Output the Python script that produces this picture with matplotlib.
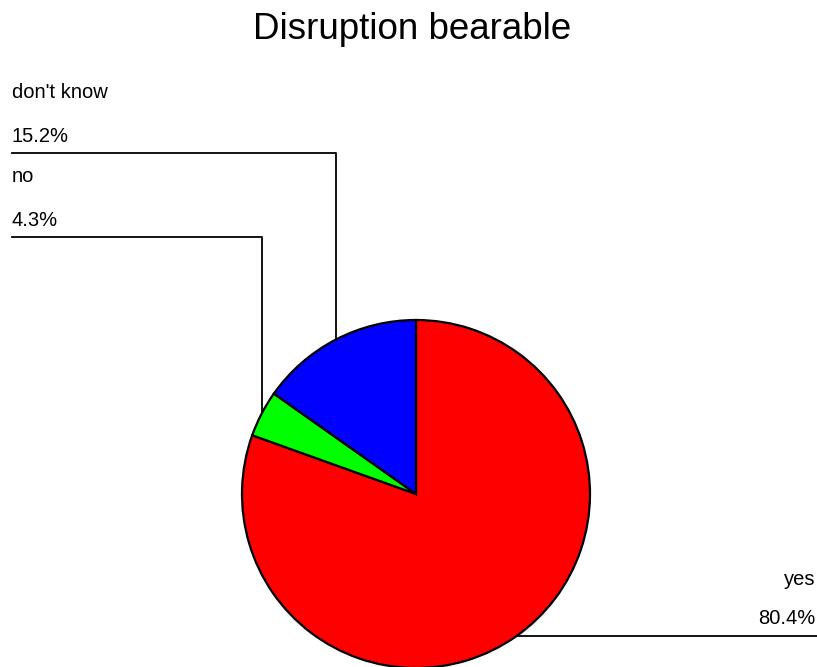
import numpy as np
import matplotlib.pyplot as plt

# data
labels = ["yes", "no", "don't know"]
shares = [80.4, 4.3, 15.2]
colors = ["#ff0000", "#00ff00", "#0000ff"]
title = "Disruption bearable"

plt.rcParams['font.family'] = ['Liberation Sans', 'DejaVu Sans']

W, H = 817, 667
fig = plt.figure(figsize=(W / 100, H / 100), dpi=100)
ax = fig.add_axes([0, 0, 1, 1])
ax.set_xlim(0, W)
ax.set_ylim(0, H)
ax.set_aspect('equal')
ax.axis('off')

cx, cy, r = 416, H - 494, 174
wedges, _ = ax.pie(shares, colors=colors, startangle=90, counterclock=False,
                   center=(cx, cy), radius=r, frame=True,
                   wedgeprops=dict(edgecolor='black', linewidth=1.6))
ax.set_xlim(0, W)
ax.set_ylim(0, H)
ax.axis('off')

# leader lines: left labels stacked top-down, right labels at the edge
left_lines = {"don't know": H - 153, "no": H - 237}
fs = 14.5
for w, lab, val in zip(wedges, labels, shares):
    mid = np.deg2rad((w.theta1 + w.theta2) / 2)
    ex = cx + r * np.cos(mid)
    ey = cy + r * np.sin(mid)
    if lab in left_lines:
        ly = left_lines[lab]
        ax.plot([12, ex, ex], [ly, ly, ey], color='black', lw=1.3, zorder=0)
        ax.text(12, ly + 55, lab, fontsize=fs, va='baseline', ha='left')
        ax.text(12, ly + 11, f"{val}%", fontsize=fs, va='baseline', ha='left')
    else:
        ly = ey
        ax.plot([ex, W], [ly, ly], color='black', lw=1.3, zorder=0)
        ax.text(815, ly + 51, lab, fontsize=fs, va='baseline', ha='right')
        ax.text(815, ly + 12, f"{val}%", fontsize=fs, va='baseline', ha='right')

ax.text(412, H - 39, title, fontsize=26.5, ha='center', va='baseline')

fig.savefig("out.png", dpi=100)
